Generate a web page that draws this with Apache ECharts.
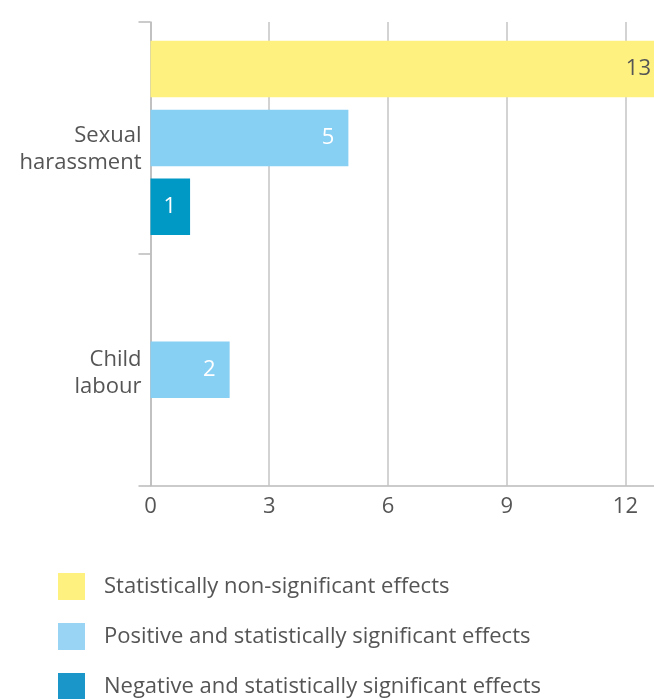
<!DOCTYPE html>
<html>
<head>
<meta charset="utf-8">
<script src="https://cdn.jsdelivr.net/npm/echarts@6/dist/echarts.min.js"></script>
<style>
  html, body { margin: 0; padding: 0; background: #fff; }
  #chart { width: 654px; height: 699px; }
</style>
</head>
<body>
<div id="chart"></div>
<script>
// Categories (top to bottom) and counts of effects per outcome
const categories = ['Sexual\nharassment', 'Child\nlabour'];
const seriesNames = [
  'Statistically non-significant effects',
  'Positive and statistically significant effects',
  'Negative and statistically significant effects'
];
const nonSignificant = [13, null];
const positiveSignificant = [5, 2];
const negativeSignificant = [1, null];
const xTicks = [0, 3, 6, 9, 12];

const colors = ['#FFF180', '#88CFF4', '#0099C6'];
const legendColors = ['#FFF180', '#9AD4F5', '#1A96C8'];
const labelColors = ['#555555', '#ffffff', '#ffffff'];
const textColor = '#555555';
const fontFamily = '"Open Sans", Lato, sans-serif';
const fontSize = 22;

const chart = echarts.init(document.getElementById('chart'), null, { renderer: 'canvas' });

const values = [nonSignificant, positiveSignificant, negativeSignificant];

// one legend block per series, stacked vertically below the plot
const legends = seriesNames.map(function (name, i) {
  return {
    orient: 'vertical',
    left: 58,
    top: 573 + i * 50,
    padding: 0,
    itemWidth: 27,
    itemHeight: 27,
    icon: 'rect',
    selectedMode: false,
    data: [{ name: name, itemStyle: { color: legendColors[i] } }],
    textStyle: { color: textColor, fontSize: fontSize, fontFamily: fontFamily, padding: [6, 0, 0, 14] }
  };
});

chart.setOption({
  animation: false,
  textStyle: { fontFamily: fontFamily },
  grid: {
    left: 150.5, width: 514.5, top: 22, bottom: 213.5,
    containLabel: false, outerBoundsMode: 'none'
  },
  legend: legends,
  xAxis: {
    type: 'value',
    min: 0,
    max: 13,
    interval: 3,
    axisLine: { show: true, lineStyle: { color: '#bbbbbb', width: 1.5 } },
    axisTick: { show: false },
    splitLine: { show: true, lineStyle: { color: '#c4c4c4', width: 1.5 } },
    axisLabel: {
      showMaxLabel: false,
      color: textColor,
      fontSize: fontSize,
      margin: 10,
      fontFamily: fontFamily,
      formatter: function (v) { return xTicks.indexOf(v) >= 0 ? String(v) : ''; }
    }
  },
  yAxis: {
    type: 'category',
    inverse: true,
    data: categories,
    axisLine: { show: true, lineStyle: { color: '#bbbbbb', width: 1.5 } },
    axisTick: { show: true, length: 12, lineStyle: { color: '#bbbbbb', width: 1.5 } },
    axisLabel: {
      color: textColor,
      fontSize: fontSize,
      lineHeight: 27,
      margin: 9,
      align: 'right',
      fontFamily: fontFamily,
      // a blank leading line nudges each two-line label down a little
      formatter: function (value, index) {
        const lines = value.split('\n').map(function (s) { return '{t|' + s + '}'; });
        return '{' + (index === 0 ? 'g0' : 'g1') + '| }\n' + lines.join('\n');
      },
      rich: {
        t: { fontSize: fontSize, lineHeight: 27, color: textColor, fontFamily: fontFamily, align: 'right' },
        g0: { fontSize: 1, lineHeight: 22 },
        g1: { fontSize: 1, lineHeight: 8 }
      }
    }
  },
  series: values.map(function (data, i) {
    return {
      name: seriesNames[i],
      type: 'bar',
      data: data,
      barWidth: 56.5,
      barGap: '22%',
      itemStyle: { color: colors[i] },
      label: {
        show: true,
        position: 'insideRight',
        distance: 14,
        color: labelColors[i],
        fontSize: fontSize,
        fontFamily: fontFamily
      }
    };
  })
});
</script>
</body>
</html>
